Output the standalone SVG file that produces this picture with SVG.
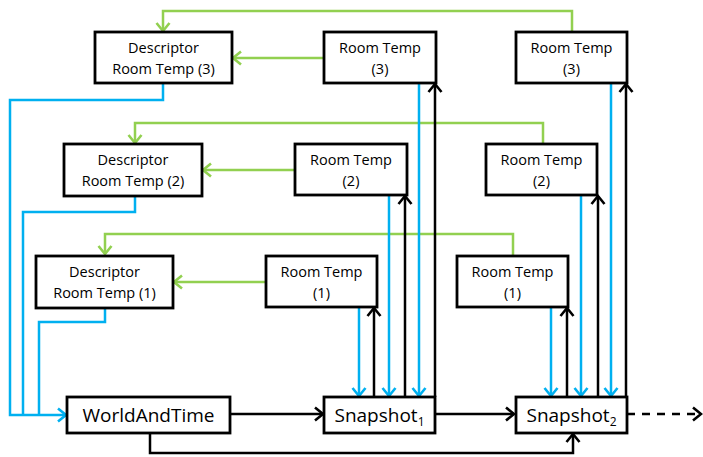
<svg xmlns="http://www.w3.org/2000/svg" width="703" height="457" viewBox="0 0 703 457">
<style>
.box{fill:#fff;stroke:#000;stroke-width:2.8}
.t{font-family:"Open Sans","Noto Sans",sans-serif;font-size:14.5px;fill:#000;text-anchor:middle}
.tb{font-family:"Open Sans","Noto Sans",sans-serif;font-size:19px;fill:#000;text-anchor:middle}
.k{fill:none;stroke:#000;stroke-width:2.5}
.b{fill:none;stroke:#00B0F0;stroke-width:2.5}
.g{fill:none;stroke:#92D050;stroke-width:2.5}
</style>
<defs>
<marker id="ak" markerUnits="userSpaceOnUse" markerWidth="14" markerHeight="18" refX="11" refY="9" orient="auto"><path d="M3,2.5 L11,9 L3,15.5" fill="none" stroke="#000" stroke-width="2.6"/></marker>
<marker id="ab" markerUnits="userSpaceOnUse" markerWidth="14" markerHeight="18" refX="11" refY="9" orient="auto"><path d="M3,2.5 L11,9 L3,15.5" fill="none" stroke="#00B0F0" stroke-width="2.6"/></marker>
<marker id="ag" markerUnits="userSpaceOnUse" markerWidth="14" markerHeight="18" refX="11" refY="9" orient="auto"><path d="M3,2.5 L11,9 L3,15.5" fill="none" stroke="#92D050" stroke-width="2.6"/></marker>
</defs>
<g id="connectors">
<path class="g" d="M572,32 V11 H163 V31" marker-end="url(#ag)"/>
<path class="g" d="M543,144 V123 H135 V143" marker-end="url(#ag)"/>
<path class="g" d="M513,256 V234 H105 V254" marker-end="url(#ag)"/>
<path class="g" d="M324,58 H233" marker-end="url(#ag)"/>
<path class="g" d="M295,170 H203" marker-end="url(#ag)"/>
<path class="g" d="M266,282 H174" marker-end="url(#ag)"/>
<path class="b" d="M163,83 V100 H10 V415 H66" marker-end="url(#ab)"/>
<path class="b" d="M135,196 V212 H23 V415"/>
<path class="b" d="M105,308 V322 H39 V415"/>
<path class="b" d="M359,307 V396" marker-end="url(#ab)"/>
<path class="b" d="M389,195 V396" marker-end="url(#ab)"/>
<path class="b" d="M419,83 V396" marker-end="url(#ab)"/>
<path class="b" d="M551,307 V396" marker-end="url(#ab)"/>
<path class="b" d="M581,195 V396" marker-end="url(#ab)"/>
<path class="b" d="M611,83 V396" marker-end="url(#ab)"/>
<path class="k" d="M374,397 V308" marker-end="url(#ak)"/>
<path class="k" d="M405,397 V196" marker-end="url(#ak)"/>
<path class="k" d="M435,397 V84" marker-end="url(#ak)"/>
<path class="k" d="M567,397 V308" marker-end="url(#ak)"/>
<path class="k" d="M598,397 V196" marker-end="url(#ak)"/>
<path class="k" d="M626,397 V84" marker-end="url(#ak)"/>
<path class="k" d="M230,414 H323" marker-end="url(#ak)"/>
<path class="k" d="M435,414 H514" marker-end="url(#ak)"/>
<path class="k" d="M150,433 V453 H573 V434" marker-end="url(#ak)"/>
<path class="k" d="M627,414 H701" stroke-dasharray="8,7" marker-end="url(#ak)"/>
</g>
<g id="desc3"><rect class="box" x="95" y="32" width="137" height="51"/><text class="t" x="163.5" y="53">Descriptor</text><text class="t" x="163.5" y="74">Room Temp (3)</text></g>
<g id="rt3a"><rect class="box" x="324" y="32" width="112" height="51"/><text class="t" x="380" y="53">Room Temp</text><text class="t" x="380" y="74">(3)</text></g>
<g id="rt3b"><rect class="box" x="516" y="32" width="111" height="51"/><text class="t" x="571.5" y="53">Room Temp</text><text class="t" x="571.5" y="74">(3)</text></g>
<g id="desc2"><rect class="box" x="64" y="144" width="138" height="52"/><text class="t" x="133" y="165">Descriptor</text><text class="t" x="133" y="186">Room Temp (2)</text></g>
<g id="rt2a"><rect class="box" x="295" y="144" width="112" height="51"/><text class="t" x="351" y="165">Room Temp</text><text class="t" x="351" y="186">(2)</text></g>
<g id="rt2b"><rect class="box" x="486" y="144" width="111" height="51"/><text class="t" x="541.5" y="165">Room Temp</text><text class="t" x="541.5" y="186">(2)</text></g>
<g id="desc1"><rect class="box" x="36" y="256" width="137" height="52"/><text class="t" x="104.5" y="277">Descriptor</text><text class="t" x="104.5" y="298">Room Temp (1)</text></g>
<g id="rt1a"><rect class="box" x="266" y="256" width="111" height="51"/><text class="t" x="321.5" y="277">Room Temp</text><text class="t" x="321.5" y="298">(1)</text></g>
<g id="rt1b"><rect class="box" x="457" y="256" width="111" height="51"/><text class="t" x="512.5" y="277">Room Temp</text><text class="t" x="512.5" y="298">(1)</text></g>
<g id="world"><rect class="box" x="67" y="397" width="163" height="36"/><text class="tb" x="148.5" y="422">WorldAndTime</text></g>
<g id="snap1"><rect class="box" x="324" y="397" width="111" height="36"/><text class="tb" x="379.5" y="422">Snapshot<tspan font-size="12" dy="4">1</tspan></text></g>
<g id="snap2"><rect class="box" x="516" y="397" width="111" height="36"/><text class="tb" x="571.5" y="422">Snapshot<tspan font-size="12" dy="4">2</tspan></text></g>
</svg>
